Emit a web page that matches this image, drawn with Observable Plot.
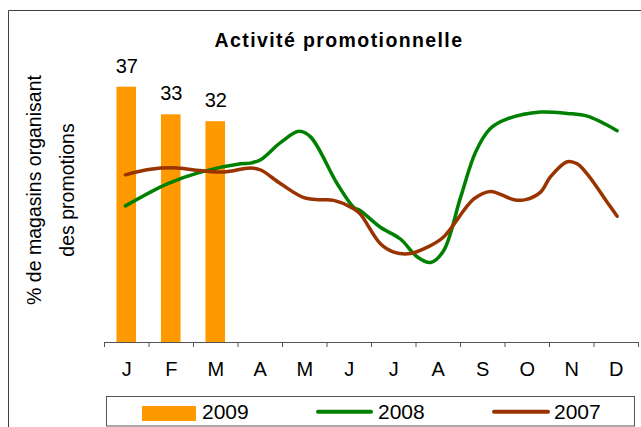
<!DOCTYPE html>
<html>
<head>
<meta charset="utf-8">
<script src="https://cdn.jsdelivr.net/npm/d3@7"></script>
<script src="https://cdn.jsdelivr.net/npm/@observablehq/plot@0.6"></script>
<style>
  html, body { margin: 0; padding: 0; background: white; }
  #chart { width: 641px; height: 427px; position: relative; }
</style>
</head>
<body>
<div id="chart"></div>
<script>
// ---- Data ----
const titre = "Activité promotionnelle";
const axeY = ["% de magasins organisant", "des promotions"];
const mois = ["J","F","M","A","M","J","J","A","S","O","N","D"];
const series = ["2009", "2008", "2007"];
const valeurs2009 = [37, 33, 32];
// positions in months (0 = start of January)
const pos2008 = [0.47, 1.41, 2.16, 3.06, 3.28, 3.51, 3.96, 4.37, 4.63, 5.23, 5.60, 5.75, 6.20, 6.65, 7.03, 7.33, 7.62, 8.00, 8.34, 8.67, 9.05, 9.80, 10.40, 10.85, 11.52];
const val2008 = [19.8, 23.0, 24.7, 25.9, 26.0, 26.5, 29.0, 30.6, 29.8, 23.0, 19.6, 19.1, 16.7, 15.0, 12.4, 11.6, 13.3, 21.0, 27.6, 31.0, 32.4, 33.4, 33.2, 32.8, 30.7];
const pos2007 = [0.47, 1.03, 1.63, 2.01, 2.68, 3.28, 3.51, 3.96, 4.48, 4.85, 5.15, 5.60, 5.75, 6.20, 6.50, 6.88, 7.25, 7.62, 8.30, 8.67, 9.20, 9.46, 9.80, 10.02, 10.40, 10.62, 10.85, 11.30, 11.52];
const val2007 = [24.3, 25.1, 25.3, 25.0, 24.7, 25.3, 25.0, 23.0, 21.0, 20.7, 20.6, 19.4, 18.6, 14.3, 13.1, 12.9, 13.8, 15.3, 20.8, 21.9, 20.7, 20.7, 21.8, 24.0, 26.2, 25.9, 24.4, 20.3, 18.3];

const couleurs = {"2009": "#FF9900", "2008": "#008000", "2007": "#993300"};
const FONT = "'Liberation Sans', Arial, Helvetica, sans-serif";

const ligne2008 = pos2008.map((p, i) => ({x: p, y: val2008[i]}));
const ligne2007 = pos2007.map((p, i) => ({x: p, y: val2007[i]}));

const plot = Plot.plot({
  width: 641,
  height: 427,
  marginLeft: 104,
  marginRight: 3,
  marginTop: 66,
  marginBottom: 85,
  style: {fontFamily: FONT, color: "black", background: "white", overflow: "visible"},
  x: {domain: [0, 12], axis: null},
  y: {domain: [0, 40], axis: null},
  marks: [
    Plot.rect(valeurs2009, {x1: (d, i) => i + 0.28, x2: (d, i) => i + 0.72, y1: 0, y2: d => d, fill: couleurs["2009"]}),
    Plot.text(valeurs2009, {x: (d, i) => i + 0.5, y: d => d, text: d => String(d), dy: -21, fontSize: 20, fill: "black"}),
    Plot.line(ligne2008, {x: "x", y: "y", stroke: couleurs["2008"], strokeWidth: 3.5, curve: "catmull-rom"}),
    Plot.line(ligne2007, {x: "x", y: "y", stroke: couleurs["2007"], strokeWidth: 3.5, curve: "catmull-rom"}),
    Plot.ruleY([0], {stroke: "#555", strokeWidth: 1}),
    Plot.axisX({ticks: d3.range(13), tickSize: 5, tickFormat: () => "", label: null, stroke: "#555"}),
    Plot.text(mois, {x: (d, i) => i + 0.5, frameAnchor: "bottom", dy: 33, text: d => d, fontSize: 20, fill: "black"})
  ]
});

const svg = d3.select(plot);

// outer frame (left and top edges visible)
svg.append("line").attr("x1", 8.5).attr("x2", 8.5).attr("y1", 10.5).attr("y2", 427).attr("stroke", "#404040").attr("stroke-width", 1);
svg.append("line").attr("x1", 8.5).attr("x2", 641).attr("y1", 10.5).attr("y2", 10.5).attr("stroke", "#404040").attr("stroke-width", 1);

// title
svg.append("text").text(titre)
  .attr("x", 339).attr("y", 46.5)
  .attr("text-anchor", "middle")
  .attr("font-family", FONT).attr("font-weight", "bold").attr("font-size", 19.5)
  .attr("letter-spacing", "1.4px").attr("fill", "black");

// y-axis title, two lines
const yLines = [40.7, 74];
axeY.forEach((t, i) => {
  svg.append("text").text(t)
    .attr("transform", `translate(${yLines[i]},190) rotate(-90)`)
    .attr("text-anchor", "middle")
    .attr("font-family", FONT).attr("font-size", 19.5).attr("fill", "black");
});

// legend
const lg = svg.append("g").attr("text-anchor", "start");
lg.append("rect").attr("x", 106.5).attr("y", 396.5).attr("width", 528).attr("height", 29.5)
  .attr("fill", "white").attr("stroke", "#555").attr("stroke-width", 1);
lg.append("rect").attr("x", 142).attr("y", 406).attr("width", 54).attr("height", 15).attr("fill", couleurs["2009"]);
lg.append("text").text(series[0]).attr("x", 202).attr("y", 418.5).attr("text-anchor", "start")
  .attr("font-family", FONT).attr("font-size", 21).attr("fill", "black");
lg.append("line").attr("x1", 318).attr("x2", 371).attr("y1", 411.7).attr("y2", 411.7)
  .attr("stroke", couleurs["2008"]).attr("stroke-width", 4).attr("stroke-linecap", "round");
lg.append("text").text(series[1]).attr("x", 378).attr("y", 418.5).attr("text-anchor", "start")
  .attr("font-family", FONT).attr("font-size", 21).attr("fill", "black");
lg.append("line").attr("x1", 494).attr("x2", 548).attr("y1", 411.7).attr("y2", 411.7)
  .attr("stroke", couleurs["2007"]).attr("stroke-width", 4).attr("stroke-linecap", "round");
lg.append("text").text(series[2]).attr("x", 554).attr("y", 418.5).attr("text-anchor", "start")
  .attr("font-family", FONT).attr("font-size", 21).attr("fill", "black");

document.getElementById("chart").appendChild(plot);
</script>
</body>
</html>
